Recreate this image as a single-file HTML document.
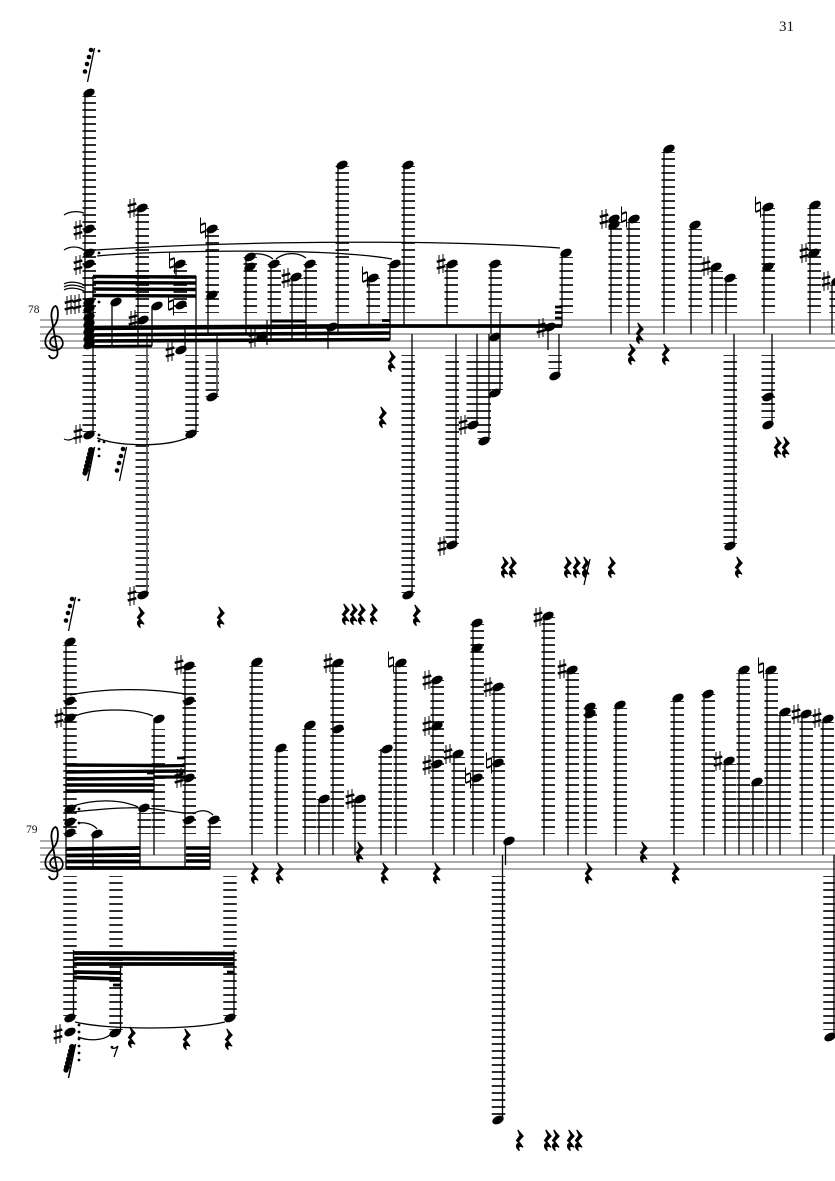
<!DOCTYPE html>
<html><head><meta charset="utf-8"><style>
html,body{margin:0;padding:0;background:#fff}
svg{display:block}
.s{stroke:#7a7a7a;stroke-width:1.2;fill:none}
.l{stroke:#111;stroke-width:13.5;stroke-dasharray:1.7 5.3;stroke-dashoffset:.85;fill:none}
.t{stroke:#000;stroke-width:1.25;fill:none}
.m{stroke:#000;stroke-width:1.3;fill:none}
.b{stroke:#000;fill:none}
text{font-family:"Liberation Serif",serif;fill:#111}
</style></head><body>
<svg xmlns="http://www.w3.org/2000/svg" width="835" height="1181" viewBox="0 0 835 1181">
<defs>
<ellipse id="h" rx="6" ry="3.9" transform="rotate(-26)" fill="#000"/>
<g id="sh" stroke="#000" fill="none"><path d="M-2 -9V10M2 -10V9" stroke-width="1"/><path d="M-4.300 -2.200L4.300 -4.400M-4.300 4.400L4.300 2.200" stroke-width="2.500"/></g>
<g id="na" stroke="#000" fill="none"><path d="M-2.500 -10.500V5M2.500 -5V10.500" stroke-width="1"/><path d="M-2.500 -3L2.500 -5M-2.500 5L2.500 3" stroke-width="2"/></g>
<path id="r" transform="scale(1.12)" d="M-2 -9L2.800 -3.500L-1.300 1L2.800 6.500C0 5 -2.500 5.500 -.5 9.500C-4 7 -4 2.800 -.5 3L-3.200 0.500L0 -4Z" fill="#000" stroke="#000" stroke-width="1"/>
<g id="gr"><path d="M4.500 -2L-2.500 32" stroke="#000" stroke-width="1.300"/><circle cx="1" cy="0" r="2.300"/><circle cx="-1" cy="7" r="2.300"/><circle cx="-3" cy="14" r="2.300"/><circle cx="-5" cy="21.500" r="2.300"/></g>
<g id="grd"><path d="M4.500 -2L-2.500 32" stroke="#000" stroke-width="1.500"/><circle cx="1" cy="1" r="3"/><circle cx="0" cy="5" r="3"/><circle cx="-1" cy="9" r="3"/><circle cx="-2" cy="13" r="3"/><circle cx="-3" cy="17" r="3"/><circle cx="-4" cy="21" r="3"/><circle cx="-5" cy="24" r="2.600"/></g>
<path id="cl" d="M56 347C49 347 48 339 54 336.500C61 334.500 64.500 342 62 346.500C59 352 48 352 45.500 344C44 336 51 331 55.500 324C59 318 58.500 307 55.500 306C52 307 50.500 314 52 320L57.500 352C58.500 359 50 360.500 49 355" fill="none" stroke="#000" stroke-width="1.800"/>
</defs>

<text x="779" y="31" font-size="15">31</text>
<text x="28" y="313" font-size="11.500">78</text>
<text x="26" y="833" font-size="11.500">79</text>

<!-- staves -->
<path class="s" d="M40 320H835M40 327H835M40 334H835M40 341H835M40 348H835"/>
<path class="s" d="M40 841H835M40 848H835M40 855H835M40 862H835M40 869H835"/>
<use href="#cl"/><use href="#cl" y="521"/>

<!-- system 1 ledgers above -->
<path class="l" d="M89.250 313V96M142.250 313V208M180.250 313V264M212.250 313V229M250.250 313V257M274.250 313V264M296.250 313V278M310.250 313V264M342.250 313V166M373.250 313V278M394.250 313V264M408.250 313V166M451.250 313V264M495.250 313V264M566.250 313V257M615.250 313V222M633.250 313V222M668.250 313V152M695.250 313V229M716.250 313V271M730.250 313V278M768.250 313V208M814.250 313V208M836.250 313V285"/>
<!-- system 1 ledgers below -->
<path class="l" d="M89.250 355V432M142.250 355V593M192 355V432M212.250 355V397M408.250 355V593M452.250 355V544M473.250 355V425M484.250 355V439M496.250 355V390M555.250 355V369M730.250 355V544M768.250 355V418"/>
<!-- system 2 ledgers above -->
<path class="l" d="M70 834V645M158.250 834V729M144.250 834V813M189.250 834V666M214.250 834V820M97.250 834V834.500M256.250 834V666M281.250 834V750M309.250 834V729M323.250 834V799M337.250 834V666M359.250 834V799M385.250 834V750M400.250 834V666M437.250 834V680M458.250 834V757M477.250 834V624M498.250 834V687M548.250 834V617M572.250 834V673M590.250 834V708M620.250 834V708M677.250 834V701M708.250 834V694M729.250 834V764M743.250 834V673M757.250 834V785M771.250 834V673M784.250 834V715M806.250 834V715M827.250 834V722"/>
<!-- system 2 ledgers below -->
<path class="l" d="M70 876V1016M116 876V1030M230 876V1016M498.500 876V1115M830 876V1030"/>

<!-- system 1 stems -->
<path class="m" d="M85 93V348M93 276V434M138 207V346M112 302V346M152 306V346M176 264V276M185 327V350M196 276V434M208 229V333M246 256V335M267 320V345M271 264V340M292 278V340M306 264V340M328 326V349M338 165V332M369 277V328M390 264V340M404 165V326M412 334V593M447 264V326M456 334V543M477 334V423M489 334V439M491 264V334M500 313V391M548 327V350M559 334V374M562 253V326M611 219V334M629 219V334M664 149V334M691 225V334M712 267V334M726 278V334M734 334V545M764 207V334M772 334V423M810 205V334M832 281V334"/>
<path d="M147 334V593M217 335V395" stroke="#555" stroke-width="1.700" fill="none"/>
<!-- system 1 beams -->
<path class="b" stroke-width="3.400" d="M93 276.500L196 277M93 282.500L196 283M93 289L196 289.500M93 295.500L196 296"/>
<path class="b" stroke-width="4.600" d="M85 328L390 326"/>
<path class="b" stroke-width="3.600" d="M85 335L390 333M85 341L390 339.500"/>
<path class="b" stroke-width="2.800" d="M85 346.500L152 346"/>
<path class="b" stroke-width="3" d="M271 321H306"/>
<path class="b" stroke-width="2.800" d="M382 320.500H390"/>
<path class="b" stroke-width="3.800" d="M390 326L562 326"/>
<path class="b" stroke-width="2.800" d="M555 307H562M555 312.500H562M555 318H562"/>
<!-- system 1 heads -->
<g>
<use href="#h" x="89" y="93"/><use href="#h" x="89" y="229"/><use href="#h" x="89" y="253"/><use href="#h" x="89" y="264"/><use href="#h" x="89" y="302"/><use href="#h" x="89" y="309"/><use href="#h" x="89" y="317"/><use href="#h" x="89" y="324"/><use href="#h" x="89" y="331"/><use href="#h" x="89" y="338"/><use href="#h" x="89" y="345"/><use href="#h" x="89" y="435"/>
<use href="#h" x="142" y="208"/><use href="#h" x="143" y="320"/><use href="#h" x="143" y="595"/><use href="#h" x="116" y="302"/><use href="#h" x="157" y="306"/><use href="#h" x="180" y="264"/><use href="#h" x="181" y="305"/><use href="#h" x="181" y="350"/><use href="#h" x="191" y="434"/><use href="#h" x="212" y="229"/><use href="#h" x="212" y="295"/><use href="#h" x="212" y="397"/>
<use href="#h" x="250" y="257"/><use href="#h" x="250" y="267"/><use href="#h" x="262" y="336"/><use href="#h" x="274" y="264"/><use href="#h" x="296" y="277"/><use href="#h" x="310" y="264"/><use href="#h" x="332" y="327"/><use href="#h" x="342" y="165"/><use href="#h" x="373" y="278"/><use href="#h" x="395" y="264"/><use href="#h" x="408" y="165"/><use href="#h" x="408" y="595"/>
<use href="#h" x="452" y="264"/><use href="#h" x="452" y="545"/><use href="#h" x="473" y="425"/><use href="#h" x="484" y="441"/><use href="#h" x="495" y="264"/><use href="#h" x="495" y="337"/><use href="#h" x="495" y="393"/><use href="#h" x="550" y="327"/><use href="#h" x="555" y="376"/><use href="#h" x="566" y="253"/>
<use href="#h" x="614" y="219"/><use href="#h" x="614" y="225"/><use href="#h" x="634" y="219"/><use href="#h" x="669" y="149"/><use href="#h" x="695" y="225"/><use href="#h" x="716" y="267"/><use href="#h" x="730" y="278"/><use href="#h" x="730" y="546"/><use href="#h" x="768" y="207"/><use href="#h" x="768" y="267"/><use href="#h" x="768" y="397"/><use href="#h" x="768" y="425"/><use href="#h" x="815" y="205"/><use href="#h" x="814" y="253"/><use href="#h" x="837" y="281"/>
</g>
<!-- system 1 accidentals -->
<use href="#sh" x="78" y="230"/><use href="#sh" x="78" y="265"/><use href="#sh" x="69" y="305"/><use href="#sh" x="77" y="304"/><use href="#sh" x="78" y="434"/><use href="#sh" x="132" y="208"/><use href="#sh" x="133" y="320"/><use href="#sh" x="132" y="596"/><use href="#na" x="172" y="263"/><use href="#na" x="171" y="305"/><use href="#sh" x="170" y="352"/><use href="#na" x="203" y="228"/><use href="#sh" x="286" y="278"/><use href="#sh" x="253" y="338"/><use href="#na" x="365" y="277"/><use href="#sh" x="441" y="264"/><use href="#sh" x="442" y="546"/><use href="#sh" x="463" y="425"/><use href="#sh" x="541" y="328"/><use href="#sh" x="604" y="219"/><use href="#na" x="624" y="217"/><use href="#sh" x="706" y="266"/><use href="#na" x="758" y="207"/><use href="#sh" x="804" y="253"/><use href="#sh" x="826" y="281"/>
<!-- system 1 ties -->
<path class="t" d="M96 250C250 240 450 240 560 248M97 256C160 250 330 248 392 259M253 254C260 253 268 255 273 259M276 259C285 252 298 252 306 258M64 215C70 211 78 211 84 213M64 250C70 246 78 246 84 250M64 284C70 281 78 282 84 285M64 287C70 284 78 285 84 288M64 290C70 287 78 288 84 291M64 439C68 441 71 440 74 438M97 438C120 447 165 447 187 438"/>
<!-- system 1 grace and dots -->
<use href="#gr" x="90" y="50"/><use href="#grd" x="90" y="449"/><use href="#gr" x="122" y="449"/>
<circle cx="99" cy="51" r="1.400"/><circle cx="99" cy="253" r="1.400"/><circle cx="99" cy="302" r="1.400"/><circle cx="99" cy="435" r="1.400"/><circle cx="99" cy="441" r="1.400"/><circle cx="99" cy="449" r="1.400"/><circle cx="99" cy="456" r="1.400"/><circle cx="104" cy="442" r="1.300"/>
<!-- system 1 rests -->
<use href="#r" x="141" y="617"/><use href="#r" x="221" y="617"/><use href="#r" x="346" y="614"/><use href="#r" x="354" y="614"/><use href="#r" x="362" y="614"/><use href="#r" x="374" y="614"/><use href="#r" x="417" y="615"/><use href="#r" x="505" y="567"/><use href="#r" x="513" y="567"/><use href="#r" x="568" y="567"/><use href="#r" x="577" y="567"/><use href="#r" x="586" y="567"/><use href="#r" x="612" y="567"/><use href="#r" x="739" y="567"/><use href="#r" x="392" y="361"/><use href="#r" x="383" y="417"/><use href="#r" x="640" y="333"/><use href="#r" x="632" y="354"/><use href="#r" x="666" y="354"/><use href="#r" x="778" y="447"/><use href="#r" x="786" y="447"/>
<path d="M590 559L584 585" stroke="#000" stroke-width="1.300"/><circle cx="585" cy="573" r="2.400"/>

<!-- system 2 stems -->
<path class="m" d="M66 642V869M93 833V869M140 808V869M154 718V855M185 666V869M210 820V869M73.500 950V1020M120.500 966V1032M234 950V1016M252 662V855M277 748V855M305 725V855M319 799V855M333 663V855M355 799V855M381 749V855M396 663V855M433 680V855M454 754V855M473 623V855M494 687V855M505.500 841V865M502.500 855V1118M544 616V855M568 670V855M586 707V855M616 705V855M674 698V855M704 694V855M725 761V855M739 670V855M753 782V855M767 670V855M780 712V855M802 714V855M823 719V855M834 855V1037"/>
<!-- system 2 beams -->
<path class="b" stroke-width="3.400" d="M66 765L154 765.500M66 772L185 771M66 779L154 778.500M66 785L154 785M66 791L154 791"/>
<path class="b" stroke-width="3.200" d="M154 766L185 765.500M154 777L185 777"/>
<path class="b" stroke-width="2.800" d="M177 758H185M147 773H154"/>
<path class="b" stroke-width="3.800" d="M66 849L140 848M66 855.500L140 855M66 861.500L140 861.500M66 868L210 868"/>
<path class="b" stroke-width="3.400" d="M186 848H210M186 855H210M186 861H210"/>
<path class="b" stroke-width="3.800" d="M74 953L234 953.500M74 958.500L234 959M74 964L234 964M74 972L121 973M74 977.500L121 979"/>
<path class="b" stroke-width="2.800" d="M227 972H234M113 985H120.500"/>
<!-- system 2 heads -->
<g>
<use href="#h" x="70" y="642"/><use href="#h" x="70" y="701"/><use href="#h" x="70" y="718"/><use href="#h" x="70" y="809"/><use href="#h" x="70" y="822"/><use href="#h" x="70" y="833"/><use href="#h" x="97" y="834"/><use href="#h" x="144" y="808"/><use href="#h" x="159" y="719"/><use href="#h" x="189" y="666"/><use href="#h" x="189" y="701"/><use href="#h" x="189" y="778"/><use href="#h" x="189" y="820"/><use href="#h" x="214" y="820"/>
<use href="#h" x="70" y="1018"/><use href="#h" x="70" y="1032"/><use href="#h" x="115" y="1033"/><use href="#h" x="230" y="1018"/>
<use href="#h" x="257" y="662"/><use href="#h" x="281" y="748"/><use href="#h" x="310" y="725"/><use href="#h" x="324" y="799"/><use href="#h" x="338" y="663"/><use href="#h" x="338" y="729"/><use href="#h" x="360" y="799"/><use href="#h" x="387" y="749"/><use href="#h" x="401" y="663"/>
<use href="#h" x="437" y="680"/><use href="#h" x="437" y="726"/><use href="#h" x="437" y="764"/><use href="#h" x="458" y="754"/><use href="#h" x="477" y="623"/><use href="#h" x="477" y="648"/><use href="#h" x="477" y="778"/><use href="#h" x="498" y="687"/><use href="#h" x="498" y="763"/><use href="#h" x="509" y="841"/><use href="#h" x="498" y="1120"/><use href="#h" x="548" y="616"/><use href="#h" x="572" y="670"/><use href="#h" x="590" y="707"/><use href="#h" x="590" y="714"/><use href="#h" x="620" y="705"/>
<use href="#h" x="678" y="698"/><use href="#h" x="708" y="694"/><use href="#h" x="729" y="761"/><use href="#h" x="744" y="670"/><use href="#h" x="757" y="782"/><use href="#h" x="771" y="670"/><use href="#h" x="785" y="712"/><use href="#h" x="806" y="714"/><use href="#h" x="828" y="719"/><use href="#h" x="830" y="1037"/>
</g>
<!-- system 2 accidentals -->
<use href="#sh" x="59" y="718"/><use href="#sh" x="179" y="665"/><use href="#sh" x="179" y="778"/><use href="#sh" x="58" y="1034"/><use href="#sh" x="328" y="663"/><use href="#sh" x="350" y="799"/><use href="#na" x="391" y="662"/><use href="#sh" x="427" y="680"/><use href="#sh" x="427" y="726"/><use href="#sh" x="427" y="765"/><use href="#sh" x="448" y="754"/><use href="#na" x="468" y="778"/><use href="#sh" x="488" y="687"/><use href="#na" x="489" y="763"/><use href="#sh" x="538" y="617"/><use href="#sh" x="562" y="669"/><use href="#sh" x="718" y="761"/><use href="#na" x="761" y="668"/><use href="#sh" x="796" y="714"/><use href="#sh" x="817" y="718"/>
<!-- system 2 ties -->
<path class="t" d="M70 695C105 688 150 688 185 694M75 716C95 708 135 708 153 716M73 806C95 799 120 799 138 807M73 812C100 809 125 807 143 808C160 809 175 812 183 813M193 814C200 809 208 810 213 815M78 823C85 822 93 824 97 829M75 1022C110 1030 190 1030 225 1022M78 1037C88 1041 102 1041 110 1035"/>
<!-- system 2 grace and dots -->
<use href="#gr" x="71" y="599"/><use href="#grd" x="71" y="1046"/>
<circle cx="79" cy="600" r="1.400"/><circle cx="79" cy="809" r="1.400"/><circle cx="79" cy="823" r="1.400"/><circle cx="79" cy="1025" r="1.400"/><circle cx="79" cy="1032" r="1.400"/><circle cx="79" cy="1039" r="1.400"/><circle cx="79" cy="1046" r="1.400"/><circle cx="79" cy="1053" r="1.400"/><circle cx="79" cy="1060" r="1.400"/>
<!-- 8th rest -->
<path d="M111 1047C112 1049 115 1049 118 1046L114 1057" fill="none" stroke="#000" stroke-width="1.300"/><circle cx="112" cy="1047" r="1.300"/>
<!-- system 2 rests -->
<use href="#r" x="132" y="1037"/><use href="#r" x="187" y="1039"/><use href="#r" x="229" y="1039"/><use href="#r" x="255" y="873"/><use href="#r" x="280" y="873"/><use href="#r" x="360" y="852"/><use href="#r" x="385" y="873"/><use href="#r" x="437" y="873"/><use href="#r" x="589" y="873"/><use href="#r" x="644" y="852"/><use href="#r" x="676" y="873"/><use href="#r" x="520" y="1140"/><use href="#r" x="548" y="1140"/><use href="#r" x="556" y="1140"/><use href="#r" x="571" y="1140"/><use href="#r" x="579" y="1140"/>
</svg>
</body></html>
